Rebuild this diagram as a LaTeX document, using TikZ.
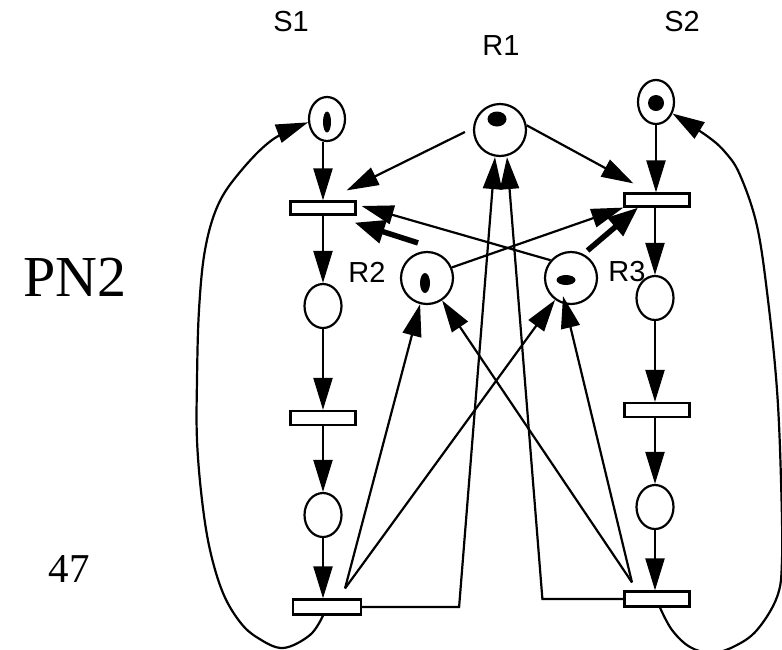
\documentclass[tikz,border=0pt]{standalone}
\usepackage{fontspec}
\setmainfont{Liberation Serif}
\newfontfamily\arialfont{Liberation Sans}
\usetikzlibrary{shapes.geometric,arrows.meta,calc}
\begin{document}
\begin{tikzpicture}[x=1pt,y=-1pt,
  place/.style={draw,ellipse,line width=2.2pt,inner sep=0pt,minimum width=37pt,minimum height=44pt},
  resource/.style={draw,circle,line width=2.2pt,inner sep=0pt,minimum size=52pt},
  trans/.style={draw,rectangle,line width=2.2pt,inner sep=0pt,minimum width=65pt,minimum height=13pt},
  token/.style={fill,ellipse,inner sep=0pt},
  arc/.style={line width=2.2pt,-{Triangle[length=32pt,width=19pt]}},
  thickarc/.style={line width=5.5pt,-{Triangle[length=30pt,width=23pt]}},
  lab/.style={font=\arialfont\fontsize{29}{29}\selectfont,inner sep=0pt},
  big/.style={inner sep=0pt}]
\useasboundingbox (0,0) rectangle (782,649);
\clip (0,0) rectangle (782,649);

% labels
\node[lab] (lS1) at (291,22) {S1};
\node[lab] (lS2) at (682,22) {S2};
\node[lab] (lR1) at (501,46) {R1};
\node[lab] (lR2) at (367,272) {R2};
\node[lab] (lR3) at (627,272) {R3};
\node[big,font=\fontsize{58}{58}\selectfont] (pn) at (75,277) {PN2};
\node[big,font=\fontsize{41}{41}\selectfont] (num) at (69,569) {47};

% places
\node[place,minimum width=36pt] (S1) at (327,119) {};
\node[place,minimum width=36pt] (S2) at (656,102) {};
\node[resource] (R1) at (500,130) {};
\node[resource] (R2) at (427,278) {};
\node[resource] (R3) at (571,278) {};
\node[place] (P1L) at (323,306) {};
\node[place] (P2L) at (323,515) {};
\node[place] (P1R) at (655,298) {};
\node[place] (P2R) at (655,507) {};

% tokens
\node[token,minimum width=8pt,minimum height=21pt] (tS1) at (327,122) {};
\node[token,minimum width=16pt,minimum height=16pt] (tS2) at (656,103) {};
\node[token,minimum width=19pt,minimum height=15pt] (tR1) at (497,119) {};
\node[token,minimum width=10pt,minimum height=20pt] (tR2) at (425,283) {};
\node[token,minimum width=19pt,minimum height=10pt] (tR3) at (566,280) {};

% transitions
\node[trans] (T1L) at (323,208) {};
\node[trans,minimum height=14pt] (T2L) at (323,418) {};
\node[trans,minimum width=68pt,minimum height=15pt] (T3L) at (327,607) {};
\node[trans] (T1R) at (657,200) {};
\node[trans,minimum height=14pt] (T2R) at (657,410) {};
\node[trans,minimum height=15pt] (T3R) at (657,599) {};

% column arcs
\draw[arc] (S1.south -| T1L) -- (T1L.north);
\draw[arc] (T1L.south) -- (P1L.north);
\draw[arc] (P1L.south) -- (T2L.north);
\draw[arc] (T2L.south) -- (P2L.north);
\draw[arc] (P2L.south) -- (P2L.south |- T3L.north);
\draw[arc] (S2.south) -- (S2.south |- T1R.north);
\draw[arc] (T1R.south -| P1R) -- (P1R.north);
\draw[arc] (P1R.south) -- (P1R.south |- T2R.north);
\draw[arc] (T2R.south -| P2R) -- (P2R.north);
\draw[arc] (P2R.south) -- (P2R.south |- T3R.north);

% resource to first transitions
\draw[arc] ($(R1.west)+(-8,2)$) -- ($(T1L.north east)+(-10,-10)$);
\draw[arc] (R1.10) -- ($(T1R.north west)+(10,-9)$);
\draw[thickarc] ($(R2.north)+(-9,-8)$) -- ($(T1L.south east)+(-2,7)$);
\draw[arc] (R3.139) -- ($(T1L.east)+(5,-2)$);
\draw[arc] (R2.23) -- (T1R.south west);
\draw[thickarc] ($(R3.60)+(3,-4)$) -- ($(T1R.south)+(-19,0)$);

% last transitions back to resources
\coordinate (bl) at ($(T3L.north)+(18,-10)$);
\coordinate (br) at ($(T3R.north)+(-25,-8)$);
\draw[arc] (bl) -- (R2);
\draw[arc] (bl) -- (R3);
\draw[arc] (br) -- (R2);
\draw[arc] (br) -- ($(R3.south)+(-8,-9)$);
\draw[arc] (T3L.east) -- ($(T3L.east)+(97,0)$) -- ($(R1.south)+(-5,0)$);
\draw[arc] (T3R.west) -- ($(T3R.west)+(-81,0)$) -- ($(R1.south)+(7,0)$);

% loops
\draw[arc] plot[smooth,tension=0.6] coordinates {($(T3L.south)+(-4,0)$) (310,635) (283,648) (258,638) (240,622) (223,593) (210,550) (202,500) (197,440) (197,380) (199,310) (205,250) (218,205) (240,172) (272,140) (S1.190)};
\draw[arc] plot[smooth,tension=0.6] coordinates {($(T3R.south)+(3,0)$) (672,630) (690,647) (712,653) (735,646) (757,630) (777,597) (782,560) (781,480) (777,390) (768,300) (757,226) (740,175) (725,152) (707,136) (S2.-35)};
\end{tikzpicture}
\end{document}
